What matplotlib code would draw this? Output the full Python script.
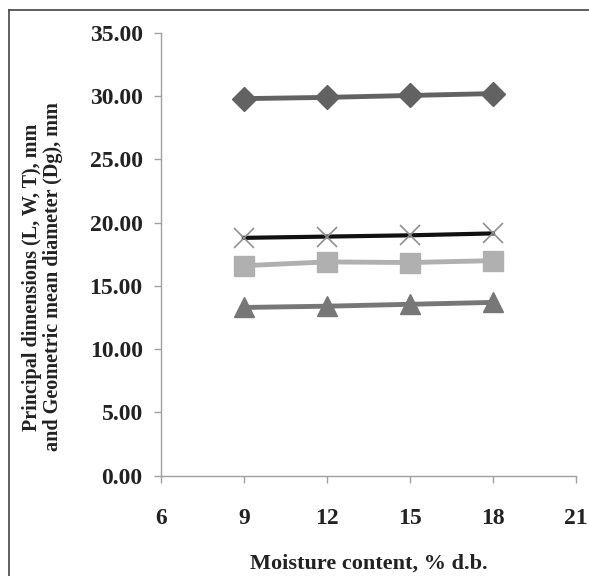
import matplotlib
matplotlib.use("Agg")
import matplotlib.pyplot as plt
from matplotlib.lines import Line2D

moisture = [9, 12, 15, 18]
length_L = [29.8, 29.9, 30.05, 30.2]
dg = [18.8, 18.9, 19.0, 19.15]
width_W = [16.6, 16.9, 16.85, 17.0]
thick_T = [13.3, 13.4, 13.55, 13.7]
xticks = [6, 9, 12, 15, 18, 21]
yticks = [0, 5, 10, 15, 20, 25, 30, 35]

plt.rcParams['font.family'] = ['Liberation Serif', 'DejaVu Serif']
plt.rcParams['font.weight'] = 'bold'

fig = plt.figure(figsize=(5.89, 5.76), dpi=100)
ax = fig.add_axes([0.273, 0.174, 0.705, 0.769])

ax.plot(moisture, length_L, color='#626262', lw=3.5, marker='D', ms=12, mec='#626262', mfc='#626262')
ax.plot(moisture, dg, color='#111111', lw=3, marker='x', ms=15, mew=1.2, mec='#909090')
ax.plot(moisture, width_W, color='#b0b0b0', lw=3.5, marker='s', ms=14, mec='#b0b0b0', mfc='#b0b0b0')
ax.plot(moisture, thick_T, color='#777777', lw=3.5, marker='^', ms=14, mec='#777777', mfc='#777777')

ax.set_xlim(6, 21)
ax.set_ylim(0, 35)
ax.set_xticks(xticks)
ax.set_xticklabels([str(t) for t in xticks])
ax.set_yticks(yticks)
ax.set_yticklabels([f"{t:.2f}" for t in yticks])
for s in ['top', 'right']:
    ax.spines[s].set_visible(False)
for s in ['left', 'bottom']:
    ax.spines[s].set_color('#a0a0a0')
    ax.spines[s].set_linewidth(1.0)
ax.tick_params(axis='both', direction='out', colors='#a0a0a0', length=5, width=1,
               labelcolor='#222222', labelsize=17)
ax.tick_params(axis='x', pad=18)
ax.tick_params(axis='y', pad=8)
ax.set_xlabel('Moisture content, % d.b.', fontsize=16, fontweight='bold', color='#222222')
ax.xaxis.set_label_coords(0.5, -0.176)
ax.set_ylabel('Principal dimensions (L, W, T), mm\nand Geometric mean diameter (Dg), mm',
              fontsize=14.5, fontweight='bold', color='#222222', linespacing=1.05)
ax.yaxis.set_label_coords(-0.236, 0.449)

xl = 8.5 / 589
yt = 1 - 10 / 576
fig.lines.append(Line2D([xl, 1.0], [yt, yt], transform=fig.transFigure, color='#444444', lw=1.2))
fig.lines.append(Line2D([xl, xl], [0, yt], transform=fig.transFigure, color='#444444', lw=1.2))

fig.savefig('out.png', dpi=100)
